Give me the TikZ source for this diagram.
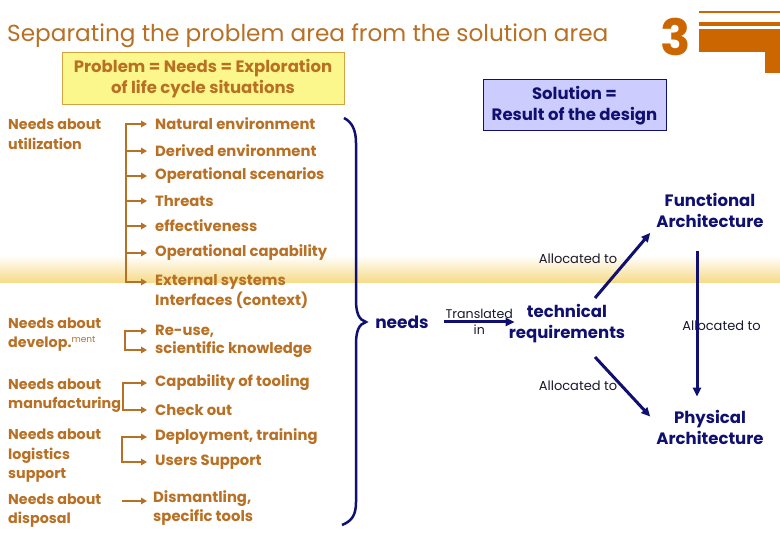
\documentclass[tikz,border=0pt]{standalone}
\usepackage{fontspec}
\setmainfont{Poppins}
\usetikzlibrary{arrows.meta,calc}
\definecolor{otext}{RGB}{184,112,36}
\definecolor{navy}{RGB}{16,16,112}
\definecolor{logoc}{RGB}{204,102,0}
\definecolor{pfill}{RGB}{252,247,140}
\definecolor{pdraw}{RGB}{212,164,64}
\definecolor{sfill}{RGB}{204,204,255}
\definecolor{bandc}{RGB}{246,218,135}
\definecolor{smallc}{RGB}{25,25,45}
\begin{document}
\begin{tikzpicture}[x=1pt,y=-1pt,
  lbl/.style={font=\bfseries\fontsize{14.3}{19.5}\selectfont, text=otext, align=left, anchor=west, inner sep=0pt},
  item/.style={font=\bfseries\fontsize{14.8}{18}\selectfont, text=otext, anchor=west, inner sep=0pt},
  obr/.style={draw=otext, line width=2.5pt, line cap=rect},
  oarr/.style={draw=otext, line width=2.5pt, -{Triangle[length=6pt,width=6.5pt]}, shorten >=8pt},
  nbold/.style={font=\bfseries\fontsize{16.5}{21}\selectfont, text=navy, align=center, inner sep=0pt},
  small/.style={font=\fontsize{13}{15}\selectfont, text=smallc, inner sep=1.5pt},
  narr/.style={draw=navy, line width=3pt, -{Triangle[length=9pt,width=8pt]}},
  boxtext/.style={font=\bfseries\fontsize{16.5}{21}\selectfont, align=center}
]
\useasboundingbox (0,0) rectangle (780,540);
\fill[white] (0,0) rectangle (780,540);
% band
\shade[top color=white, bottom color=bandc] (0,255) rectangle (780,283);

% logo
\fill[logoc] (699,11.3) rectangle (780,12.7);
\fill[logoc] (699,22) rectangle (780,26);
\fill[logoc] (699,29) rectangle (780,52);
\fill[logoc] (765,52) rectangle (780,73);
\node[font=\bfseries\fontsize{50}{50}\selectfont, text=logoc, inner sep=0pt] (three) at (675.5,37) {3};

% title
\node[anchor=base west, font=\fontsize{23.2}{30}\selectfont, text=otext, inner sep=0pt] (title) at (7,42) {Separating the problem area from the solution area};

% boxes
\node[boxtext, fill=pfill, draw=pdraw, line width=1pt, minimum width=282pt, minimum height=52pt, text=otext, inner sep=0pt] (prob) at (203,79) {Problem = Needs = Exploration\\of life cycle situations};
\node[boxtext, fill=sfill, draw=navy, line width=1pt, minimum width=183pt, minimum height=51pt, text=navy, inner sep=0pt] (sol) at (574.5,105.5) {Solution =\\Result of the design};

% left labels
\node[lbl] (L1) at (8,134.5) {Needs about\\utilization};
\node[lbl] (L2) at (8,334.5) {Needs about\\develop.{\mdseries\fontsize{9}{9}\selectfont\raisebox{5pt}{ment}}};
\node[lbl] (L3) at (8,395.5) {Needs about\\manufacturing};
\node[lbl] (L4) at (8,456) {Needs about\\logistics\\support};
\node[lbl] (L5) at (8,510.5) {Needs about\\disposal};

% items
\node[item] (n1) at (155,124) {Natural environment};
\node[item] (n2) at (155,151) {Derived environment};
\node[item] (n3) at (155,176) {Operational scenarios};
\node[item] (n4) at (155,201) {Threats};
\node[item] (n5) at (155,226) {effectiveness};
\node[item] (n6) at (155,253) {Operational capability};
\node[item] (n7) at (155,282) {External systems};
\node[item] (n7b) at (155,300) {Interfaces (context)};
\node[item] (d1) at (155,331) {Re-use,};
\node[item] (d2) at (155,350) {scientific knowledge};
\node[item] (m1) at (155,383) {Capability of tooling};
\node[item] (m2) at (155,410) {Check out};
\node[item] (l1) at (155,437) {Deployment, training};
\node[item] (l2) at (155,462) {Users Support};
\node[item] (s1) at (153,499) {Dismantling,};
\node[item] (s2) at (153,518) {specific tools};

\coordinate (x1) at (126,0);
\coordinate (x2) at (125,0);
\coordinate (x3) at (123,0);
\coordinate (x4) at (122,0);

\draw[obr] (x1 |- n1.west) -- (x1 |- n7.west);
\foreach \n in {n1,n2,n3,n4,n5,n6,n7} \draw[oarr] (x1 |- \n.west) -- (\n.west);
\draw[obr] (x2 |- d1.west) -- (x2 |- d2.west);
\foreach \n in {d1,d2} \draw[oarr] (x2 |- \n.west) -- (\n.west);
\draw[obr] (x3 |- m1.west) -- (x3 |- m2.west);
\foreach \n in {m1,m2} \draw[oarr] (x3 |- \n.west) -- (\n.west);
\draw[obr] (x4 |- l1.west) -- (x4 |- l2.west);
\foreach \n in {l1,l2} \draw[oarr] (x4 |- \n.west) -- (\n.west);
\draw[oarr, shorten >=6pt] ($(x4 |- s1.west)+(0,2)$) -- ($(s1.west)+(0,2)$);

% brace
\draw[navy, line width=2.5pt] (344,118) .. controls (352,122) and (356,130) .. (356,143) -- (356,300) .. controls (356,313) and (359,320) .. (366,322) .. controls (359,324) and (356,331) .. (356,344) -- (356,502) .. controls (356,515) and (352,521) .. (342,525);

% solution side
\node[nbold, font=\bfseries\fontsize{17}{21}\selectfont] (needs) at (402,322) {needs};
\node[nbold] (tech) at (567,323.5) {technical\\requirements};
\node[nbold] (func) at (710,210.5) {Functional\\Architecture};
\node[nbold] (phys) at (710,427) {Physical\\Architecture};

\draw[narr] ($(needs.east)+(15,0)$) -- ($(needs.east -| tech.west)+(6,0)$)
  node[small, midway, above, font=\fontsize{12.6}{15}\selectfont] {Translated} node[small, midway, below, font=\fontsize{12.6}{15}\selectfont] {in};

\node[small] (a1) at (578,259) {Allocated to};
\node[small] (a2) at (721.5,326) {Allocated to};
\node[small] (a3) at (578,386) {Allocated to};

\draw[narr] ($(tech.north)+(28,-6)$) -- ($(func.south west)+(-6,5)$);
\draw[narr] ($(func.south)+(-13,23)$) -- ($(phys.north)+(-13,-13)$);
\draw[narr] ($(tech.south)+(28,14)$) -- ($(phys.north west)+(-6,7)$);
\end{tikzpicture}
\end{document}
